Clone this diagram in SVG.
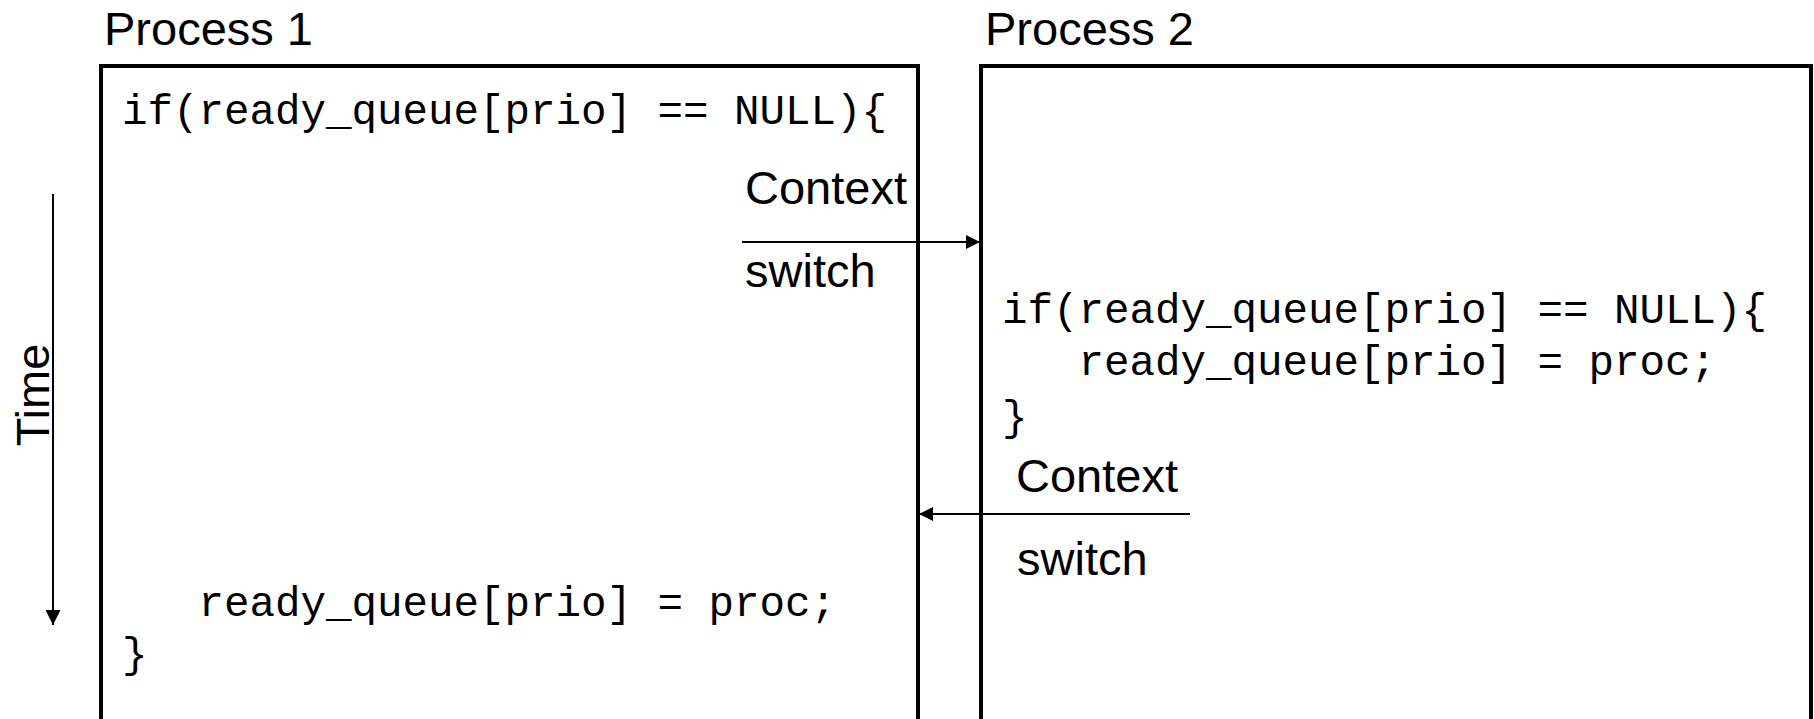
<svg xmlns="http://www.w3.org/2000/svg" width="1814" height="719" viewBox="0 0 1814 719">
  <defs>
    <marker id="head" viewBox="0 0 14 14" refX="14" refY="7" markerWidth="14" markerHeight="14" markerUnits="userSpaceOnUse" orient="auto">
      <path d="M0,0 L14,7 L0,14 Z" fill="#000"/>
    </marker>
    <marker id="headTime" viewBox="0 0 15 15" refX="15" refY="7.5" markerWidth="15" markerHeight="15" markerUnits="userSpaceOnUse" orient="auto">
      <path d="M0,0 L15,7.5 L0,15 Z" fill="#000"/>
    </marker>
  </defs>
  <style>
    .box { fill: #fff; stroke: #000; stroke-width: 4; }
    .label { font-family: "Liberation Sans", Arial, sans-serif; font-size: 47px; fill: #000; }
    .code { font-family: "Liberation Mono", "Courier New", monospace; font-size: 42.5px; fill: #000; white-space: pre; }
    .conn { stroke: #000; stroke-width: 2; fill: none; }
  </style>
  <rect width="1814" height="719" fill="#fff"/>

  <!-- time axis -->
  <g id="time-axis">
    <line class="conn" x1="53" y1="194" x2="53" y2="625" marker-end="url(#headTime)"/>
    <text class="label" text-anchor="middle" transform="translate(49,395) rotate(-90)">Time</text>
  </g>

  <!-- first process -->
  <g id="process1">
    <text class="label" x="104" y="45">Process 1</text>
    <rect class="box" x="101" y="66" width="817" height="700"/>
    <text class="code" x="122" y="124" xml:space="preserve">if(ready_queue[prio] == NULL){</text>
    <text class="code" x="122" y="616" xml:space="preserve">   ready_queue[prio] = proc;</text>
    <text class="code" x="122" y="667" xml:space="preserve">}</text>
  </g>

  <!-- second process -->
  <g id="process2">
    <text class="label" x="985" y="45">Process 2</text>
    <rect class="box" x="981" y="66" width="830" height="700"/>
    <text class="code" x="1002" y="323" xml:space="preserve">if(ready_queue[prio] == NULL){</text>
    <text class="code" x="1002" y="375" xml:space="preserve">   ready_queue[prio] = proc;</text>
    <text class="code" x="1002" y="430" xml:space="preserve">}</text>
  </g>

  <!-- context switches -->
  <g id="connectors">
    <g id="switch-to-p2">
      <line class="conn" x1="742" y1="242" x2="980" y2="242" marker-end="url(#head)"/>
      <text class="label" x="745" y="204">Context</text>
      <text class="label" x="745" y="287">switch</text>
    </g>
    <g id="switch-to-p1">
      <line class="conn" x1="1190" y1="514" x2="919" y2="514" marker-end="url(#head)"/>
      <text class="label" x="1016" y="492">Context</text>
      <text class="label" x="1017" y="575">switch</text>
    </g>
  </g>
</svg>
